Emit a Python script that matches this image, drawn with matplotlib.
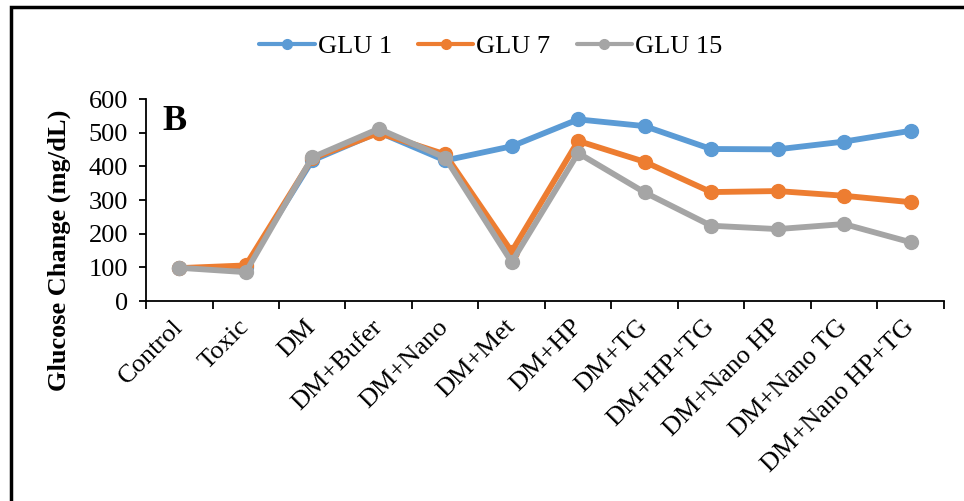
import numpy as np
import matplotlib.pyplot as plt
from matplotlib.patches import Rectangle

plt.rcParams['font.family'] = ['Liberation Serif', 'DejaVu Serif']

groups = ['Control', 'Toxic', 'DM', 'DM+Bufer', 'DM+Nano', 'DM+Met', 'DM+HP',
          'DM+TG', 'DM+HP+TG', 'DM+Nano HP', 'DM+Nano TG', 'DM+Nano HP+TG']
glu1 = [98, 100, 418, 502, 418, 460, 540, 520, 452, 451, 474, 506]
glu7 = [98, 106, 424, 500, 436, 147, 476, 414, 324, 327, 313, 294]
glu15 = [99, 86, 427, 512, 426, 116, 440, 323, 224, 214, 229, 175]

series = [('GLU 1', glu1, '#5B9BD5'),
          ('GLU 7', glu7, '#ED7D31'),
          ('GLU 15', glu15, '#A5A5A5')]

fig = plt.figure(figsize=(9.64, 5.01), dpi=100)
ax = fig.add_axes([0.1515, 0.399, 0.8275, 0.403])

x = np.arange(len(groups))
for name, vals, col in series:
    ax.plot(x, vals, color=col, lw=4.2, marker='o', ms=10,
            solid_capstyle='round')
    # thinner line with smaller dot for the legend key
    ax.plot([], [], color=col, lw=3, marker='o', ms=7,
            solid_capstyle='round', label=name)

ax.set_xlim(-0.5, len(groups) - 0.5)
ax.set_ylim(0, 600)
ax.set_yticks(range(0, 601, 100))
ax.set_xticks(x)
ax.set_xticklabels(groups, rotation=45, ha='right', va='center',
                   rotation_mode='anchor', fontsize=19)
ax.set_xticks(np.arange(-0.5, len(groups), 1), minor=True)
ax.tick_params(axis='x', which='major', length=0, pad=16)
ax.tick_params(axis='x', which='minor', length=6, width=1.3, direction='out')
ax.tick_params(axis='y', length=5, width=1.3, labelsize=19, pad=8)
for s in ['top', 'right']:
    ax.spines[s].set_visible(False)
for s in ['left', 'bottom']:
    ax.spines[s].set_linewidth(1.3)

ax.text(0.02, 0.97, 'B', transform=ax.transAxes, fontsize=26,
        fontweight='bold', va='top')

fig.text(0.062, 0.50, 'Glucose Change (mg/dL)', rotation=90, fontsize=19,
         fontweight='bold', ha='center', va='center')

fig.legend(loc='center', bbox_to_anchor=(0.509, 0.907), ncol=3, frameon=False,
           fontsize=19, handlelength=2.1, columnspacing=1.0, handletextpad=0.1)

# outer frame around the whole chart
fig.patches.append(Rectangle((0.011, -0.05), 1.1, 1.036, transform=fig.transFigure,
                             fill=False, lw=2.5, ec='black'))

fig.savefig('out.png', dpi=100)
